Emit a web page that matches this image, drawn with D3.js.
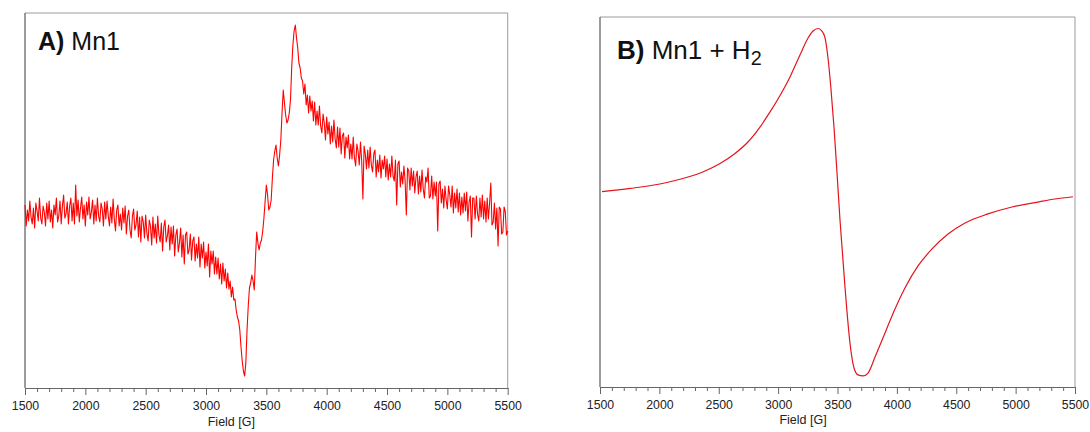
<!DOCTYPE html>
<html><head><meta charset="utf-8">
<script src="https://cdn.jsdelivr.net/npm/d3@7"></script>
<style>
body{margin:0;background:#fff}
svg{display:block}
text{font-family:"Liberation Sans",Arial,Helvetica,sans-serif}
</style>
</head><body>
<svg id="chart" width="1090" height="432"></svg>
<script>
// ---------- data ----------
const fieldTicks = [1500, 2000, 2500, 3000, 3500, 4000, 4500, 5000, 5500];
const minorTicks = [1600,1700,1800,1900,2100,2200,2300,2400,2600,2700,2800,2900,3100,3200,3300,3400,3600,3700,3800,3900,4100,4200,4300,4400,4600,4700,4800,4900,5100,5200,5300,5400];
const axisTitle = "Field [G]";

// Panel A: Mn1 (field sweep 1500-5500 G, one reading every 10 G), arbitrary intensity
const fieldA = d3.range(1500, 5501, 10);
const intensityA = [
  8,-13,3,-8,12,-4,-11,5,-15,10,2,-8,15,-5,-11,7,1,-13,10,-6,
  12,-9,3,-15,8,-2,15,-9,-3,12,-11,7,18,-5,-1,11,-11,7,15,-8,
  10,-11,28,-3,13,-9,5,16,-6,8,-13,11,-2,16,-6,1,13,-11,8,-8,
  15,-3,-9,10,4,-13,11,-6,12,-3,-13,6,-10,14,-6,-18,3,8,-13,-1,
  -17,5,-10,7,-21,-3,3,-17,-25,-3,4,-17,-12,2,-24,-4,-29,-3,-9,-25,
  -2,-20,-28,-7,-13,-32,-4,-25,-11,-30,-3,-22,-29,-10,-38,-14,-7,-29,-23,-12,
  -37,-14,-31,-13,-43,-22,-16,-39,-30,-15,-44,-22,-51,-22,-19,-41,-37,-21,-47,-28,
  -24,-48,-31,-45,-24,-54,-31,-45,-29,-55,-39,-53,-31,-64,-38,-51,-38,-61,-44,-61,
  -45,-66,-51,-71,-50,-68,-56,-75,-60,-76,-68,-84,-74,-87,-86,-97,-104,-108,-117,-134,
  -148,-158,-163,-150,-117,-93,-75,-70,-62,-68,-77,-45,-19,-30,-37,-30,-27,-18,-5,12,
  28,18,3,6,13,35,53,62,68,55,47,58,73,100,123,110,98,90,93,100,
  113,145,168,182,188,175,165,150,145,135,132,119,129,108,118,100,117,102,112,92,
  111,88,102,88,107,87,80,99,90,73,96,79,91,69,87,71,93,74,65,86,
  66,85,59,77,80,55,76,65,78,54,69,54,76,55,47,69,62,48,71,52,
  14,67,59,44,63,45,66,48,41,59,63,36,53,41,58,35,53,44,57,36,
  54,33,49,36,57,37,32,53,8,49,52,26,41,29,47,32,-2,45,42,23,
  45,27,42,20,36,42,19,37,21,43,24,15,36,31,45,15,17,37,14,31,
  17,31,-18,29,32,10,24,5,27,13,4,27,18,6,27,0,20,5,24,1,
  20,-2,16,0,20,2,21,-8,11,17,-24,15,15,-6,17,-1,-8,15,-4,18,
  -6,12,-9,15,-6,10,30,-12,-9,10,-16,5,-33,6,4,-21,-19,6,1,-22,-18
];

// Panel B: Mn1 + H2
const fieldB = [1517,1753,2005,2241,2384,2511,2637,2746,2847,2932,3016,3100,3184,3252,3294,3336,3369,3395,3420,3445,3471,3496,3521,3563,3605,3639,3673,3715,3757,3816,3900,3984,4068,4178,4296,4431,4574,4767,4969,5188,5332,5483];
const intensityB = [0.049,0.068,0.094,0.135,0.171,0.215,0.274,0.341,0.429,0.518,0.615,0.724,0.853,0.953,0.994,1.009,0.994,0.953,0.835,0.653,0.424,0.159,-0.118,-0.512,-0.841,-0.988,-1.029,-1.035,-1.018,-0.924,-0.782,-0.641,-0.518,-0.388,-0.288,-0.2,-0.135,-0.082,-0.041,-0.012,0.006,0.019];

// ---------- drawing ----------
const svg = d3.select("#chart");

function panel(cfg) {
  const x = d3.scaleLinear().domain([1500, 5500]).range([cfg.x0, cfg.x1]);
  const y = d3.scaleLinear().domain(cfg.yDomain).range([cfg.yBottom, cfg.yTop]);
  const g = svg.append("g");

  // frame
  g.append("line").attr("x1", cfg.x0).attr("x2", cfg.x1).attr("y1", cfg.yTop).attr("y2", cfg.yTop)
    .attr("stroke", "#9a9a9a").attr("stroke-width", 1);
  g.append("line").attr("x1", cfg.x1).attr("x2", cfg.x1).attr("y1", cfg.yTop).attr("y2", cfg.yBottom)
    .attr("stroke", "#9a9a9a").attr("stroke-width", 1);
  g.append("line").attr("x1", cfg.x0).attr("x2", cfg.x0).attr("y1", cfg.yTop).attr("y2", cfg.yBottom)
    .attr("stroke", "#5a5a5a").attr("stroke-width", 1.2);

  // minor ticks
  const minorAxis = d3.axisBottom(x).tickValues(minorTicks).tickSize(4).tickSizeOuter(0).tickFormat("");
  const gm = g.append("g").attr("transform", `translate(0,${cfg.yBottom})`).call(minorAxis);
  gm.select(".domain").remove();
  gm.selectAll(".tick line").attr("stroke", "#666");

  // major ticks + labels
  const majorAxis = d3.axisBottom(x).tickValues(fieldTicks).tickSize(7).tickSizeOuter(0)
    .tickPadding(6).tickFormat(d3.format("d"));
  const ga = g.append("g").attr("transform", `translate(0,${cfg.yBottom})`).call(majorAxis);
  ga.select(".domain").attr("stroke", "#666").attr("stroke-width", 1.2);
  ga.selectAll(".tick line").attr("stroke", "#666");
  ga.selectAll(".tick text").attr("font-size", 12.3).attr("fill", "#222")
    .attr("font-family", '"Liberation Sans",Arial,Helvetica,sans-serif');

  g.append("text").attr("x", x(3210)).attr("y", cfg.yBottom + cfg.titleOffset)
    .attr("text-anchor", "middle").attr("font-size", 12.5).attr("fill", "#222").text(axisTitle);

  // data line
  const line = d3.line().x(d => x(d[0])).y(d => y(d[1])).curve(cfg.curve);
  g.append("path").datum(d3.zip(cfg.fields, cfg.values))
    .attr("d", line).attr("fill", "none").attr("stroke", cfg.color)
    .attr("stroke-width", cfg.width).attr("stroke-linejoin", "round");

  // title
  const t = g.append("text").attr("x", cfg.tx).attr("y", cfg.ty).attr("font-size", cfg.fs).attr("fill", "#111");
  t.append("tspan").attr("font-weight", "bold").text(cfg.label);
  t.append("tspan").text(cfg.name);
  if (cfg.sub) {
    t.append("tspan").attr("font-size", cfg.fs * 0.76).attr("dy", 6).text(cfg.sub);
  }
}

panel({
  x0: 25, x1: 507.7, yTop: 13, yBottom: 388, yDomain: [-175, 200],
  fields: fieldA, values: intensityA, color: "#ff0000", width: 1.1, curve: d3.curveLinear,
  titleOffset: 38, tx: 38, ty: 50, fs: 25, label: "A)", name: "\u00a0Mn1"
});

panel({
  x0: 600, x1: 1075, yTop: 17, yBottom: 387, yDomain: [-1.1, 1.0765],
  fields: fieldB, values: intensityB, color: "#e3141c", width: 1.2, curve: d3.curveMonotoneX,
  titleOffset: 37, tx: 617, ty: 59, fs: 26, label: "B)", name: "\u00a0Mn1 + H", sub: "2"
});
</script>
</body></html>
